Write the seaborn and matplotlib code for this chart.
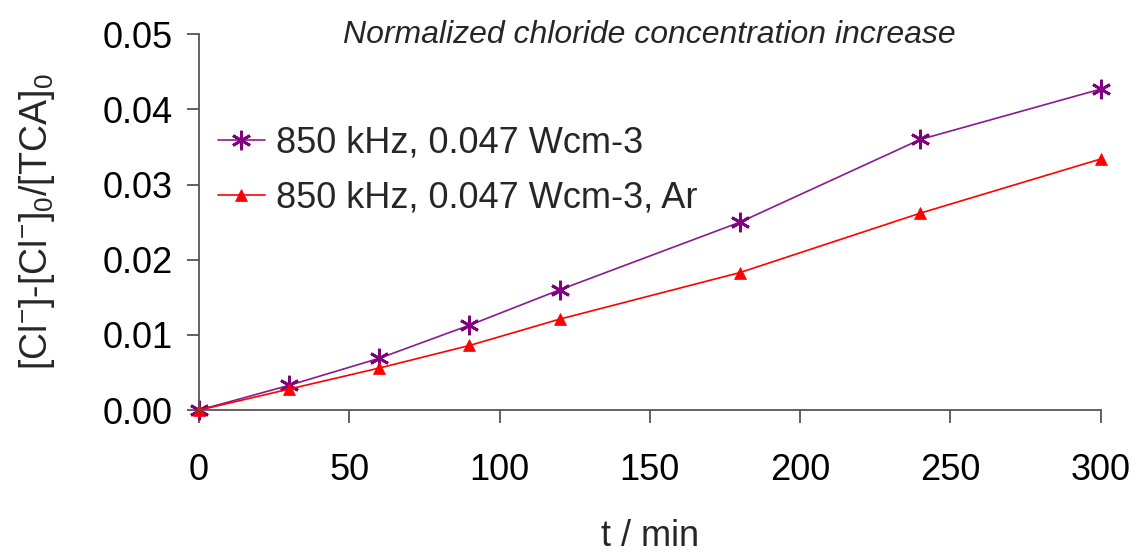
import matplotlib
matplotlib.use("Agg")
import matplotlib.pyplot as plt
import seaborn as sns
import pandas as pd
from matplotlib.ticker import FormatStrFormatter

t_min = [0, 30, 60, 90, 120, 180, 240, 300]
series_air = [0.0, 0.0033, 0.0069, 0.0113, 0.0160, 0.0250, 0.0360, 0.0427]
series_ar = [0.0, 0.0028, 0.0056, 0.0086, 0.0121, 0.0183, 0.0262, 0.0334]
label_air = "850 kHz, 0.047 Wcm-3"
label_ar = "850 kHz, 0.047 Wcm-3, Ar"
x_ticks = [0, 50, 100, 150, 200, 250, 300]
y_ticks = [0.00, 0.01, 0.02, 0.03, 0.04, 0.05]

df_air = pd.DataFrame({"t": t_min, "val": series_air})
df_ar = pd.DataFrame({"t": t_min, "val": series_ar})

sns.set_theme(style="white")
plt.rcParams["font.family"] = ["Liberation Sans", "DejaVu Sans"]
plt.rcParams["mathtext.fontset"] = "custom"
plt.rcParams["mathtext.rm"] = "Liberation Sans"
plt.rcParams["mathtext.it"] = "Liberation Sans:italic"

fig = plt.figure(figsize=(11.37, 5.52), dpi=100)
ax = fig.add_axes([0.175, 0.257, 0.793, 0.681])

sns.lineplot(data=df_air, x="t", y="val", color="#8B1A8B", marker=(6, 2, 0),
             markersize=14, markeredgewidth=2.0, markeredgecolor="#800080",
             linewidth=1.2, label=label_air, ax=ax)
sns.lineplot(data=df_ar, x="t", y="val", color="#FF0000", marker="^",
             markersize=9, markeredgewidth=0.5, markeredgecolor="#FF0000",
             linewidth=1.2, label=label_ar, ax=ax)
for ln in ax.lines:
    ln.set_clip_on(False)

ax.set_xlim(0, 300)
ax.set_ylim(0, 0.05)
ax.set_xticks(x_ticks)
ax.set_yticks(y_ticks)
ax.yaxis.set_major_formatter(FormatStrFormatter("%.2f"))
for s in ["top", "right"]:
    ax.spines[s].set_visible(False)
for s in ["left", "bottom"]:
    ax.spines[s].set_color("#555555")
    ax.spines[s].set_linewidth(1.3)
ax.tick_params(axis="both", direction="out", length=9, width=1.3, color="#555555",
               labelsize=26, labelcolor="black")
ax.tick_params(axis="x", pad=22)
ax.tick_params(axis="y", pad=10)
ax.tick_params(left=True, bottom=True)

ax.set_xlabel("t / min", fontsize=26, labelpad=22)
ax.set_ylabel(r"[Cl$^{-}$]-[Cl$^{-}$]$_{0}$/[TCA]$_{0}$", fontsize=27, labelpad=33)
ax.text(0.5, 0.997, "Normalized chloride concentration increase", transform=ax.transAxes,
        ha="center", va="center", fontsize=23, style="italic")

leg = ax.legend(loc="upper left", bbox_to_anchor=(-0.011, 0.834), frameon=False,
                fontsize=26, handlelength=1.3, handletextpad=0.3, labelspacing=0.55,
                borderpad=0.3)

fig.savefig("out.png", dpi=100)
